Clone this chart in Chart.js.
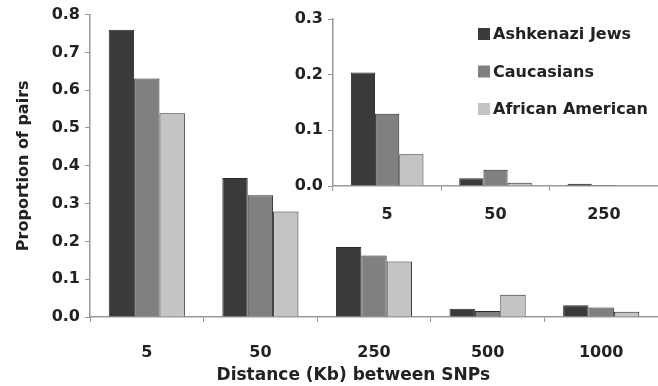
<!DOCTYPE html>
<html>
<head>
<meta charset="utf-8">
<script src="https://cdn.jsdelivr.net/npm/chart.js@4/dist/chart.umd.min.js"></script>
<style>
  html, body { margin: 0; padding: 0; background: #fff; }
  #wrap { position: relative; width: 658px; height: 386px; }
  #main { position: absolute; left: 0; top: 0; }
  #inset { position: absolute; left: 280px; top: 0; }
</style>
</head>
<body>
<div id="wrap">
  <canvas id="main" width="658" height="386"></canvas>
  <canvas id="inset" width="378" height="230"></canvas>
</div>
<script>
// main panel
var distances = ['5', '50', '250', '500', '1000'];
var ashkenazi = [0.760, 0.368, 0.185, 0.022, 0.031];
var caucasian = [0.631, 0.322, 0.163, 0.016, 0.025];
var african   = [0.539, 0.279, 0.147, 0.059, 0.014];

// inset panel
var insetDistances = ['5', '50', '250'];
var insetAshkenazi = [0.204, 0.014, 0.004];
var insetCaucasian = [0.130, 0.029, 0.002];
var insetAfrican   = [0.057, 0.006, 0.001];

var seriesNames  = ['Ashkenazi Jews', 'Caucasians', 'African American'];
var seriesColors = ['#3a3a3a', '#808080', '#c4c4c4'];

var FONT = '"DejaVu Sans", "Liberation Sans", Arial, sans-serif';
Chart.defaults.font.family = FONT;
Chart.defaults.font.weight = 'bold';
Chart.defaults.color = '#222';

function mkSets(lists) {
  return lists.map(function(d, i) {
    return {
      label: seriesNames[i],
      data: d,
      backgroundColor: seriesColors[i],
      borderColor: '#2a2a2a',
      borderWidth: 1,
      categoryPercentage: 0.67,
      barPercentage: 1.0
    };
  });
}

function axes(yMax, yWidth, xHeight, xTitle, xPad) {
  return {
    x: {
      offset: true,
      grid: { display: true, offset: true, drawOnChartArea: false, drawTicks: true, tickLength: 5, color: '#999' },
      border: { display: true, color: '#999', width: 1.5 },
      ticks: { color: '#222', font: { size: 16, weight: 'bold' }, padding: xPad },
      title: xTitle ? { display: true, text: xTitle, color: '#222', font: { size: 17, weight: 'bold' }, padding: { top: 4, bottom: 0 } } : { display: false },
      afterFit: function(s) { s.height = xHeight; }
    },
    y: {
      min: 0, max: yMax,
      ticks: { stepSize: 0.1, color: '#222', font: { size: 16, weight: 'bold' }, padding: 5,
               callback: function(v) { return v.toFixed(1); } },
      grid: { display: true, drawOnChartArea: false, drawTicks: true, tickLength: 5, color: '#999' },
      border: { display: true, color: '#999', width: 1.5 },
      afterFit: function(s) { s.width = yWidth; }
    }
  };
}

// trailing no-break spaces nudge the centred title left, as in the original
var mainOpts = {
  responsive: false,
  animation: false,
  layout: { padding: { top: 14, right: 0, left: 0, bottom: 0 } },
  plugins: { legend: { display: false }, tooltip: { enabled: false } },
  scales: axes(0.8, 90, 69, 'Distance (Kb) between SNPs' + '\u00a0'.repeat(7), 21)
};
mainOpts.scales.y.title = { display: true, text: 'Proportion of pairs', color: '#222', font: { size: 16, weight: 'bold' }, padding: { top: 14, bottom: 4 } };

new Chart(document.getElementById('main'), {
  type: 'bar',
  data: { labels: distances, datasets: mkSets([ashkenazi, caucasian, african]) },
  options: mainOpts
});

// legend drawn inside the inset's plot area
var insetLegend = {
  id: 'insetLegend',
  afterDraw: function(chart) {
    var ctx = chart.ctx;
    ctx.save();
    ctx.font = 'bold 16px ' + FONT;
    ctx.textBaseline = 'middle';
    chart.data.datasets.forEach(function(ds, i) {
      var y = 34 + i * 37.5;
      var x = 198;
      ctx.fillStyle = ds.backgroundColor;
      ctx.fillRect(x, y - 6, 12, 12);
      ctx.fillStyle = '#222';
      ctx.fillText(ds.label, x + 15, y + 1);
    });
    ctx.restore();
  }
};

new Chart(document.getElementById('inset'), {
  type: 'bar',
  data: { labels: insetDistances, datasets: mkSets([insetAshkenazi, insetCaucasian, insetAfrican]) },
  options: {
    responsive: false,
    animation: false,
    layout: { padding: { top: 19, right: 0, left: 0, bottom: 0 } },
    plugins: { legend: { display: false }, tooltip: { enabled: false } },
    scales: axes(0.3, 53, 44, null, 14)
  },
  plugins: [insetLegend]
});
</script>
</body>
</html>
